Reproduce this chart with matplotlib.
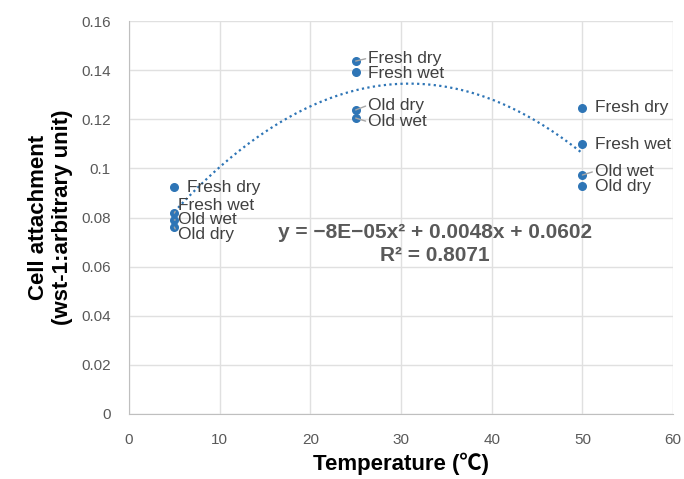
import numpy as np
import matplotlib.pyplot as plt

# data
temps = [5, 5, 5, 5, 25, 25, 25, 25, 50, 50, 50, 50]
attach = [0.0924, 0.0818, 0.0790, 0.0761,
          0.1437, 0.1392, 0.1238, 0.1205,
          0.1246, 0.1099, 0.0973, 0.0928]
names = ["Fresh dry", "Fresh wet", "Old wet", "Old dry",
         "Fresh dry", "Fresh wet", "Old dry", "Old wet",
         "Fresh dry", "Fresh wet", "Old wet", "Old dry"]

# where each label sits (data coords)
label_pos = [(6.4, 0.0924), (5.4, 0.0847), (5.4, 0.0790), (5.4, 0.0729),
             (26.4, 0.1449), (26.4, 0.1388), (26.4, 0.1258), (26.4, 0.1189),
             (51.4, 0.1246), (51.4, 0.1099), (51.4, 0.0989), (51.4, 0.0928)]

plt.rcParams['font.family'] = ['Liberation Sans', 'Noto Sans CJK JP', 'DejaVu Sans']

fig = plt.figure(figsize=(6.84, 4.79), dpi=100)
ax = fig.add_axes([0.1886, 0.1357, 0.7954, 0.8204])

blue = "#2E75B6"
gray_text = "#595959"

# quadratic trendline
coef = np.polyfit(temps, attach, 2)
xs = np.linspace(5, 50, 200)
ax.plot(xs, np.polyval(coef, xs), linestyle=(0, (1, 1.5)), color=blue, lw=1.6, zorder=2)

ax.scatter(temps, attach, s=30, color=blue, zorder=3)

for t, v, name, (lx, ly) in zip(temps, attach, names, label_pos):
    far = abs(ly - v) > 0.001 or lx - t < 1
    ax.annotate(name, xy=(t, v), xytext=(lx, ly), va="center", ha="left",
                fontsize=12.5, color="#404040",
                arrowprops=dict(arrowstyle="-", color="#a6a6a6", lw=1,
                                shrinkA=0, shrinkB=0, relpos=(0, 0.5)) if far else None,
                zorder=4)

ax.text(33.75, 0.0741, "y = \u22128E\u221205x\u00b2 + 0.0048x + 0.0602", ha="center", va="center",
        fontsize=15, fontweight="bold", color=gray_text)
ax.text(33.75, 0.0647, "R\u00b2 = 0.8071", ha="center", va="center",
        fontsize=15, fontweight="bold", color=gray_text)

ax.set_xlim(0, 60)
ax.set_ylim(0, 0.16)
ax.set_xticks(np.arange(0, 61, 10))
ax.set_yticks(np.arange(0, 0.161, 0.02))
ax.set_yticklabels(["0", "0.02", "0.04", "0.06", "0.08", "0.1", "0.12", "0.14", "0.16"])
ax.grid(True, color="#e0e0e0", lw=1)
ax.set_axisbelow(True)
ax.tick_params(axis="y", length=0, labelsize=11, labelcolor=gray_text, pad=13)
ax.tick_params(axis="x", length=0, labelsize=11, labelcolor=gray_text, pad=14)
for s in ["top", "right"]:
    ax.spines[s].set_visible(False)
for s in ["left", "bottom"]:
    ax.spines[s].set_color("#bfbfbf")

ax.set_xlabel("Temperature (\u2103)", fontsize=16, fontweight="bold", labelpad=4)
ax.set_ylabel("Cell attachment\n(wst-1:arbitrary unit)", fontsize=16, fontweight="bold", labelpad=6)

fig.savefig("out.png", dpi=100)
